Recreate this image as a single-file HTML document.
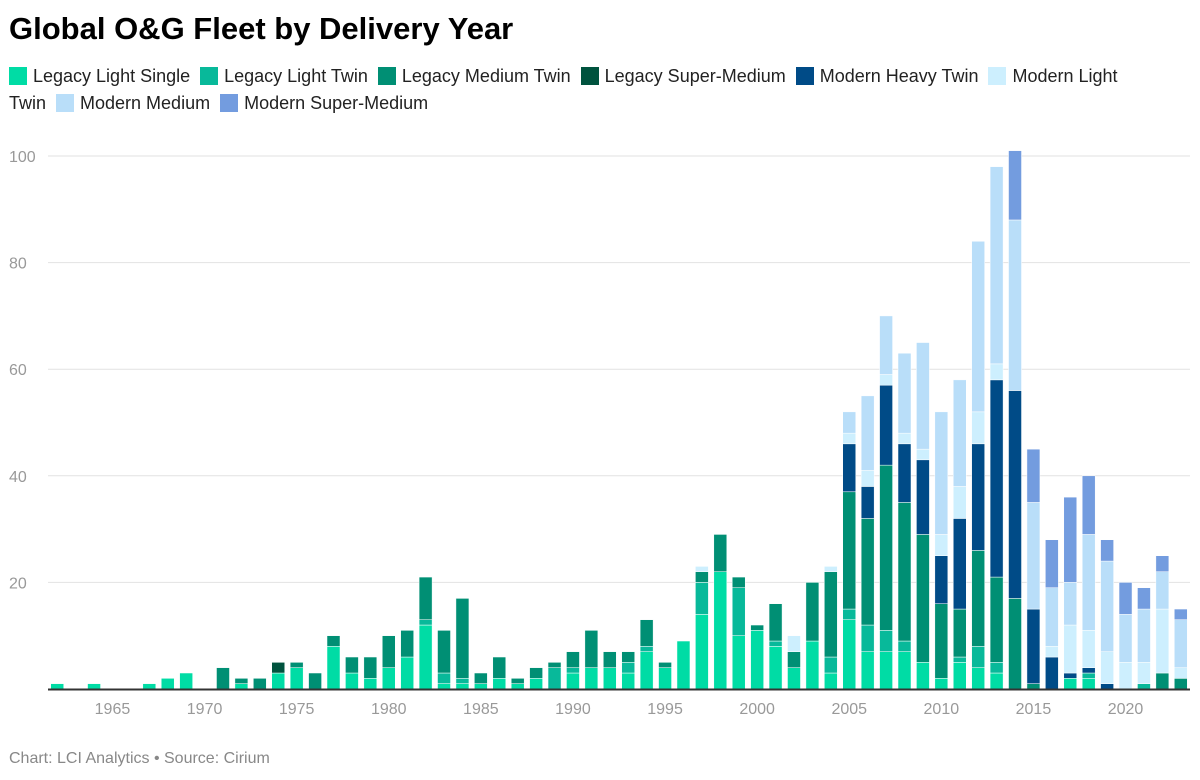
<!DOCTYPE html>
<html><head><meta charset="utf-8"><style>
body{margin:0;width:1200px;height:780px;background:#fff;font-family:"Liberation Sans",sans-serif;overflow:hidden;position:relative}
#title{position:absolute;left:9px;top:11px;font-size:31px;font-weight:bold;color:#000;letter-spacing:0px}
#legend{position:absolute;left:9px;top:63px;width:1140px;font-size:18px;color:#222;line-height:27px}
.li{display:inline;margin-right:10px;white-space:normal}
.sw{display:inline-block;width:18px;height:18px;vertical-align:-3px;margin-right:6px}
#foot{position:absolute;left:9px;top:750px;font-size:16px;color:#888}
svg{position:absolute;left:0;top:0}
</style></head><body>
<div id="title">Global O&amp;G Fleet by Delivery Year</div>
<div id="legend"></div>
<svg id="chart" width="1200" height="780"></svg>
<div id="foot">Chart: LCI Analytics • Source: Cirium</div>
<script>
const seriesNames=["Legacy Light Single","Legacy Light Twin","Legacy Medium Twin","Legacy Super-Medium","Modern Heavy Twin","Modern Light Twin","Modern Medium","Modern Super-Medium"];
const seriesColors=["#00dca5","#08b99a","#008f74","#00533e","#004b87","#cdeffe","#b9def9","#739cdf"];
const years=[];for(let y=1962;y<=2023;y++)years.push(y);
const LLS=[1,0,1,0,0,1,2,3,0,0,1,0,3,4,0,8,3,2,4,6,12,1,1,1,2,1,2,0,3,4,4,3,7,4,9,14,22,10,11,8,4,9,3,13,7,7,7,5,2,5,4,3,0,0,0,2,2,0,0,0,0,0];
const LLT=[0,0,0,0,0,0,0,0,0,0,0,0,0,0,0,0,0,0,0,0,1,2,1,0,0,0,0,4,1,0,0,2,1,0,0,6,0,9,0,1,0,0,3,2,5,4,2,0,0,1,4,2,0,0,0,0,1,0,0,1,0,0];
const LMT=[0,0,0,0,0,0,0,0,0,4,1,2,0,1,3,2,3,4,6,5,8,8,15,2,4,1,2,1,3,7,3,2,5,1,0,2,7,2,1,7,3,11,16,22,20,31,26,24,14,9,18,16,17,1,0,0,0,0,0,0,3,2];
const LSM=[0,0,0,0,0,0,0,0,0,0,0,0,2,0,0,0,0,0,0,0,0,0,0,0,0,0,0,0,0,0,0,0,0,0,0,0,0,0,0,0,0,0,0,0,0,0,0,0,0,0,0,0,0,0,0,0,0,0,0,0,0,0];
const MHT=[0,0,0,0,0,0,0,0,0,0,0,0,0,0,0,0,0,0,0,0,0,0,0,0,0,0,0,0,0,0,0,0,0,0,0,0,0,0,0,0,0,0,0,9,6,15,11,14,9,17,20,37,39,14,6,1,1,1,0,0,0,0];
const MLT=[0,0,0,0,0,0,0,0,0,0,0,0,0,0,0,0,0,0,0,0,0,0,0,0,0,0,0,0,0,0,0,0,0,0,0,1,0,0,0,0,3,0,1,2,3,2,2,2,4,6,6,3,0,0,2,9,7,6,5,4,12,2];
const MM=[0,0,0,0,0,0,0,0,0,0,0,0,0,0,0,0,0,0,0,0,0,0,0,0,0,0,0,0,0,0,0,0,0,0,0,0,0,0,0,0,0,0,0,4,14,11,15,20,23,20,32,37,32,20,11,8,18,17,9,10,7,9];
const MSM=[0,0,0,0,0,0,0,0,0,0,0,0,0,0,0,0,0,0,0,0,0,0,0,0,0,0,0,0,0,0,0,0,0,0,0,0,0,0,0,0,0,0,0,0,0,0,0,0,0,0,0,0,13,10,9,16,11,4,6,4,3,2];
const yTicks=[20,40,60,80,100];
const xTicks=[1965,1970,1975,1980,1985,1990,1995,2000,2005,2010,2015,2020];
const series=[LLS,LLT,LMT,LSM,MHT,MLT,MM,MSM];

const leg=document.getElementById('legend');
seriesNames.forEach((n,i)=>{
 const s=document.createElement('span');s.className='li';
 
 
 s.innerHTML='<span class="sw" style="background:'+seriesColors[i]+'"></span>'+n;
 leg.appendChild(s);
});
const NS='http://www.w3.org/2000/svg';
const svg=document.getElementById('chart');
const x0=48,x1=1190,y0=689,y100=156;
const xs=y=>x0+(y-1961.5)*(x1-x0)/62;
const ys=v=>y0-v*(y0-y100)/100;
function el(t,a){const e=document.createElementNS(NS,t);for(const k in a)e.setAttribute(k,a[k]);svg.appendChild(e);return e;}
yTicks.forEach(t=>{
 const g=el('line',{x1:x0,x2:x1,y1:ys(t),y2:ys(t),stroke:'#e2e2e2','stroke-width':1});
 
 
 const l=el('text',{x:9,y:ys(t)+6,'font-size':16,fill:'#999'});l.textContent=t;
 
 
});
years.forEach((yr,i)=>{
 let acc=0;
 series.forEach((s,k)=>{
  const v=s[i];if(!v)return;
  const r=el('rect',{x:xs(yr)-6.5,y:ys(acc+v),width:13,height:ys(acc)-ys(acc+v),fill:seriesColors[k],stroke:'#fff','stroke-width':0.5});
  
  
  acc+=v;
 });
});
const ax=el('line',{x1:x0,x2:x1,y1:y0+0.5,y2:y0+0.5,stroke:'#333','stroke-width':2});


xTicks.forEach(t=>{
 const l=el('text',{x:xs(t),y:714,'font-size':16,fill:'#999','text-anchor':'middle'});l.textContent=t;
 
 
});
</script>
</body></html>
